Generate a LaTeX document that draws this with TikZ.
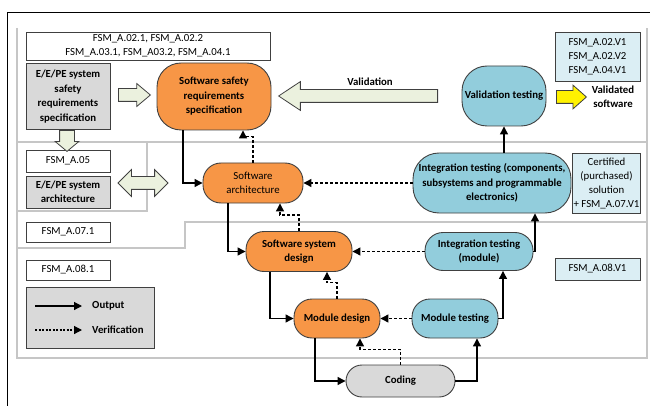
\documentclass[tikz,border=0pt]{standalone}
\usepackage{fontspec}
\setmainfont{Carlito}
\usetikzlibrary{arrows.meta, positioning, shapes.arrows}

\definecolor{orangefill}{HTML}{F79646}
\definecolor{aquafill}{HTML}{92CDDC}
\definecolor{paleblue}{HTML}{DBEEF4}
\definecolor{greyfill}{HTML}{D9D9D9}
\definecolor{palegreen}{HTML}{EBF1DE}
\definecolor{edge}{HTML}{404040}

\begin{document}
\begin{tikzpicture}[x=1pt, y=-1pt, font=\fontsize{10.8}{14}\selectfont,
    every node/.style={align=center, inner sep=1pt},
    phase/.style={draw=gray!45, line width=1.6pt},
    fsmbox/.style={draw=edge, fill=white, line width=0.8pt},
    fsmvbox/.style={draw=edge, fill=paleblue, line width=0.8pt},
    sysbox/.style={draw=edge, fill=greyfill, line width=0.8pt,
                   font=\fontsize{10.8}{14.5}\selectfont\bfseries},
    swbox/.style={draw=edge, fill=orangefill, line width=0.9pt, rounded corners=18pt,
                  font=\fontsize{10.8}{14.5}\selectfont\bfseries},
    testbox/.style={swbox, fill=aquafill},
    codebox/.style={swbox, fill=greyfill, rounded corners=16pt},
    boldtext/.style={font=\fontsize{10.8}{14.5}\selectfont\bfseries},
    outflow/.style={-{Triangle[length=8pt, width=8pt]}, line width=1.2pt},
    verflow/.style={outflow, dash pattern=on 3pt off 2pt},
    blockarrow/.style={draw=edge, fill=palegreen, line width=0.8pt, inner sep=0pt}]
    \useasboundingbox (0,0) rectangle (650,406);

    % frame and phase borders
    \draw[line width=0.9pt] (650,12) -- (7,12) -- (7,406);
    \draw[phase] (17,28) -- (17,358) -- (647,358) -- (647,28);
    \draw[phase] (17,142) -- (647,142);
    \draw[phase] (147,142) -- (147,211) -- (17,211);
    \draw[phase] (647,222) -- (185,222) -- (185,248) -- (17,248);

    % top phase
    \node[fsmbox, minimum width=244pt, minimum height=28pt] (fsmreq) at (148,46)
        {FSM\_A.02.1, FSM\_A.02.2\\FSM\_A.03.1, FSM\_A03.2, FSM\_A.04.1};
    \node[sysbox, minimum width=84pt, minimum height=66pt] (sysreq) at (68,96.5)
        {E/E/PE system\\safety\\requirements\\specification};
    \node[swbox, rounded corners=24pt, minimum width=114pt, minimum height=67pt] (ssrs) at (214,96.5)
        {Software safety\\requirements\\specification};
    \node[testbox, rounded corners=25pt, minimum width=84pt, minimum height=60pt] (valtest) at (504,96)
        {Validation testing};
    \node[fsmvbox, minimum width=85pt, minimum height=49pt] (fsmvalid) at (597.5,56.5)
        {FSM\_A.02.V1\\FSM\_A.02.V2\\FSM\_A.04.V1};
    \node[boldtext] (validsw) at (613,97) {Validated\\software};
    \node[boldtext] (validlbl) at (370,82) {Validation};

    % architecture phase
    \node[fsmbox, minimum width=84pt, minimum height=22pt] (fsmarch) at (68,161) {FSM\_A.05};
    \node[sysbox, minimum width=84pt, minimum height=32pt] (sysarch) at (68,192)
        {E/E/PE system\\architecture};
    \node[swbox, font=\fontsize{10.8}{14.5}\selectfont, minimum width=100pt, minimum height=40pt]
        (swarch) at (253,183) {Software\\architecture};
    \node[testbox, rounded corners=26pt, minimum width=158pt, minimum height=60pt] (inttest) at (492,183)
        {Integration testing (components,\\subsystems and programmable\\electronics)};
    \node[fsmvbox, minimum width=67pt, minimum height=60pt] (certsol) at (606.5,183)
        {Certified\\(purchased)\\solution\\+ FSM\_A.07.V1};

    % design phases
    \node[fsmbox, minimum width=84pt, minimum height=20pt] (fsmsys) at (68,232) {FSM\_A.07.1};
    \node[swbox, minimum width=106pt, minimum height=40pt] (swsys) at (299,251.5)
        {Software system\\design};
    \node[testbox, minimum width=108pt, minimum height=38pt] (itmod) at (479,251.5)
        {Integration testing\\(module)};
    \node[fsmbox, minimum width=84pt, minimum height=20pt] (fsmmod) at (68,270) {FSM\_A.08.1};
    \node[fsmvbox, minimum width=85pt, minimum height=22pt] (fsmmodv) at (597.5,269) {FSM\_A.08.V1};
    \node[swbox, minimum width=86pt, minimum height=39pt] (moddes) at (337,318.5) {Module design};
    \node[testbox, minimum width=86pt, minimum height=39pt] (modtest) at (455,318.5) {Module testing};
    \node[codebox, minimum width=109pt, minimum height=32pt] (coding) at (400.5,381) {Coding};

    % block arrows
    \node[blockarrow, single arrow, anchor=tail, minimum height=32pt, inner sep=6pt,
          single arrow head extend=5pt, single arrow tip angle=80] (reqarrow) at (118,95) {};
    \node[blockarrow, single arrow, shape border rotate=180, anchor=tail, minimum height=159pt,
          inner sep=6pt, single arrow head extend=8pt, single arrow tip angle=67] (valarrow) at (438,96) {};
    \node[blockarrow, single arrow, shape border rotate=270, anchor=tail, minimum height=20pt,
          inner sep=7pt, single arrow head extend=4.5pt, single arrow tip angle=100] (downarrow) at (67,130) {};
    \node[blockarrow, double arrow, minimum height=50pt, inner sep=6pt,
          double arrow head extend=7pt, double arrow tip angle=90] (archarrow) at (143,183) {};
    \node[blockarrow, single arrow, fill=yellow, anchor=tail, minimum height=30pt, inner sep=6pt,
          single arrow head extend=5.5pt, single arrow tip angle=83] (outarrow) at (556,97) {};

    % outputs
    \draw[outflow] ([xshift=-31pt]ssrs.south) |- (swarch.west);
    \draw[outflow] ([xshift=-25pt]swarch.south) |- (swsys.west);
    \draw[outflow] ([xshift=-29pt]swsys.south) |- (moddes.west);
    \draw[outflow] ([xshift=-22pt]moddes.south) |- (coding.west);
    \draw[outflow] (coding.east) -| ([xshift=22pt]modtest.south);
    \draw[outflow] (modtest.east) -| ([xshift=24pt]itmod.south);
    \draw[outflow] (itmod.east) -| ([xshift=43pt]inttest.south);
    \draw[outflow] (valtest.south |- inttest.north) -- (valtest.south);

    % verifications
    \draw[verflow] (swarch.north) -- ++(0,-26) -| ([xshift=29pt]ssrs.south);
    \draw[verflow] (swsys.north) -- ++(0,-16) -| ([xshift=27pt]swarch.south);
    \draw[verflow] (moddes.north) -- ++(0,-16) -| ([xshift=28pt]swsys.south);
    \draw[verflow] (coding.north) -- ++(0,-15) -| ([xshift=23pt]moddes.south);
    \draw[verflow] (modtest.west) -- (moddes.east);
    \draw[verflow] (itmod.west) -- (swsys.east);
    \draw[verflow] (inttest.west) -- (swarch.east);

    % legend
    \node[sysbox, minimum width=128pt, minimum height=61pt] (legend) at (90,317.5) {};
    \coordinate (outA) at (35,306);
    \coordinate (outB) at (82,306);
    \coordinate (verA) at (35,330);
    \coordinate (verB) at (82,330);
    \draw[outflow] (outA) -- (outB);
    \draw[verflow, dash pattern=on 2pt off 1.5pt] (verA) -- (verB);
    \node[boldtext, right=9pt of outB] (outlbl) {Output};
    \node[boldtext, right=9pt of verB] (verlbl) {Verification};
\end{tikzpicture}
\end{document}
